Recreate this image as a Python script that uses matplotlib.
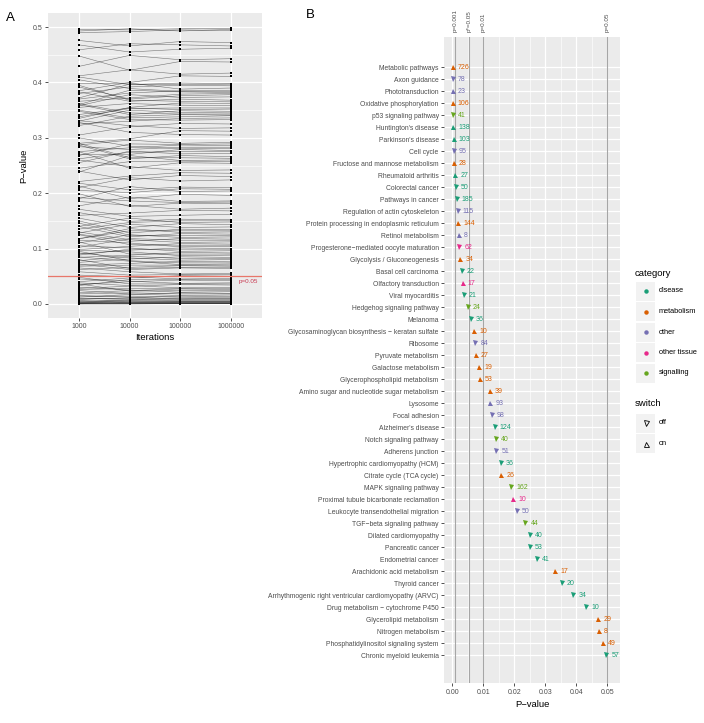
import numpy as np
import matplotlib.pyplot as plt
from matplotlib.patches import Rectangle

plt.rcParams['font.family'] = ['Liberation Sans', 'DejaVu Sans']

# ---- panel A: p-value per pathway at each iteration count ----
iterations = ["1000", "10000", "100000", "1000000"]

p_1000 = [0.496, 0.493, 0.490, 0.476, 0.459, 0.468, 0.429, 0.448, 0.412, 0.385,
          0.410, 0.380, 0.398, 0.370, 0.360, 0.392, 0.358, 0.383, 0.335,
          0.342, 0.360, 0.330, 0.350, 0.325, 0.305, 0.331, 0.290, 0.328,
          0.287, 0.275, 0.300, 0.270, 0.255, 0.287, 0.238, 0.275,
          0.260, 0.221, 0.240, 0.210, 0.218, 0.190, 0.213, 0.177, 0.199, 0.185, 0.160, 0.171,
          0.165, 0.140, 0.155, 0.128, 0.150, 0.117, 0.140, 0.110, 0.126, 0.130, 0.098,
          0.115, 0.090, 0.105, 0.084, 0.097, 0.075, 0.092, 0.070, 0.085, 0.062, 0.072,
          0.065, 0.040, 0.052, 0.035, 0.045, 0.028, 0.038, 0.020, 0.030, 0.012,
          0.024, 0.008, 0.015, 0.004, 0.010, 0.002, 0.006, 0.001, 0.003, 0.000,
          0.372, 0.405, 0.366, 0.395, 0.355, 0.338, 0.362, 0.322, 0.348, 0.268,
          0.284, 0.262, 0.290, 0.245, 0.205, 0.192, 0.135, 0.118, 0.146, 0.102,
          0.125, 0.088, 0.112, 0.078, 0.095, 0.068, 0.080, 0.058, 0.033, 0.048,
          0.026, 0.036, 0.018, 0.014, 0.009, 0.005, 0.003, 0.000, 0.001, 0.000]
p_10000 = [0.495, 0.497, 0.492, 0.466, 0.470, 0.455, 0.449, 0.422, 0.423, 0.400,
           0.396, 0.392, 0.399, 0.381, 0.386, 0.370, 0.378, 0.366, 0.355,
           0.354, 0.342, 0.350, 0.336, 0.330, 0.320, 0.322, 0.298, 0.310,
           0.296, 0.282, 0.285, 0.270, 0.276, 0.262, 0.268, 0.245,
           0.248, 0.231, 0.224, 0.228, 0.206, 0.212, 0.190, 0.193, 0.176, 0.178, 0.164, 0.158,
           0.149, 0.155, 0.138, 0.144, 0.128, 0.136, 0.121, 0.125, 0.113, 0.116, 0.104,
           0.110, 0.097, 0.101, 0.088, 0.094, 0.081, 0.083, 0.073, 0.077, 0.066, 0.062,
           0.058, 0.047, 0.049, 0.040, 0.041, 0.032, 0.033, 0.024, 0.025, 0.017,
           0.018, 0.011, 0.012, 0.007, 0.008, 0.005, 0.002, 0.003, 0.001, 0.000,
           0.397, 0.389, 0.372, 0.368, 0.362, 0.353, 0.345, 0.339, 0.333, 0.289,
           0.279, 0.274, 0.264, 0.257, 0.201, 0.186, 0.147, 0.132, 0.124, 0.118,
           0.107, 0.099, 0.090, 0.086, 0.078, 0.070, 0.064, 0.052, 0.044, 0.036,
           0.028, 0.023, 0.020, 0.014, 0.010, 0.006, 0.004, 0.002, 0.001, 0.000]
p_100000 = [0.497, 0.493, 0.495, 0.474, 0.468, 0.460, 0.441, 0.438, 0.415, 0.412,
            0.399, 0.395, 0.388, 0.385, 0.383, 0.376, 0.373, 0.370, 0.363,
            0.351, 0.349, 0.346, 0.338, 0.335, 0.326, 0.317, 0.313, 0.306,
            0.290, 0.287, 0.280, 0.279, 0.271, 0.268, 0.259, 0.255,
            0.241, 0.237, 0.232, 0.222, 0.211, 0.203, 0.198, 0.185, 0.182, 0.171, 0.169, 0.160,
            0.153, 0.147, 0.145, 0.138, 0.135, 0.129, 0.127, 0.120, 0.118, 0.111, 0.109,
            0.103, 0.101, 0.095, 0.093, 0.087, 0.085, 0.079, 0.077, 0.071, 0.069, 0.065,
            0.054, 0.051, 0.045, 0.043, 0.037, 0.035, 0.029, 0.027, 0.021, 0.020,
            0.015, 0.014, 0.009, 0.008, 0.006, 0.004, 0.003, 0.002, 0.001, 0.0005,
            0.396, 0.384, 0.379, 0.366, 0.359, 0.354, 0.343, 0.342, 0.332, 0.288,
            0.283, 0.275, 0.264, 0.258, 0.208, 0.183, 0.150, 0.132, 0.123, 0.115,
            0.106, 0.098, 0.090, 0.082, 0.074, 0.070, 0.066, 0.053, 0.044, 0.036,
            0.028, 0.024, 0.018, 0.012, 0.009, 0.005, 0.004, 0.002, 0.001, 0.0003]
p_1000000 = [0.498, 0.496, 0.494, 0.472, 0.466, 0.462, 0.443, 0.437, 0.417, 0.411,
             0.398, 0.394, 0.390, 0.386, 0.382, 0.378, 0.374, 0.368, 0.362,
             0.352, 0.348, 0.345, 0.340, 0.336, 0.325, 0.318, 0.312, 0.305,
             0.292, 0.286, 0.281, 0.277, 0.272, 0.266, 0.260, 0.254,
             0.242, 0.236, 0.230, 0.224, 0.210, 0.204, 0.196, 0.186, 0.181, 0.173, 0.168, 0.162,
             0.152, 0.148, 0.143, 0.139, 0.134, 0.130, 0.126, 0.121, 0.117, 0.112, 0.108,
             0.104, 0.100, 0.096, 0.092, 0.088, 0.084, 0.080, 0.076, 0.072, 0.068, 0.064,
             0.055, 0.050, 0.046, 0.042, 0.038, 0.034, 0.030, 0.026, 0.022, 0.019,
             0.016, 0.013, 0.010, 0.008, 0.006, 0.004, 0.003, 0.002, 0.001, 0.0005,
             0.397, 0.384, 0.380, 0.365, 0.358, 0.354, 0.343, 0.341, 0.333, 0.289,
             0.283, 0.275, 0.263, 0.257, 0.207, 0.184, 0.150, 0.132, 0.124, 0.115,
             0.106, 0.098, 0.090, 0.082, 0.074, 0.070, 0.066, 0.053, 0.044, 0.036,
             0.028, 0.024, 0.018, 0.012, 0.009, 0.005, 0.004, 0.002, 0.001, 0.0003]

# ---- panel B: significant pathways ----
pathways = ["Metabolic pathways", "Axon guidance", "Phototransduction", "Oxidative phosphorylation",
            "p53 signaling pathway", "Huntington's disease", "Parkinson's disease", "Cell cycle",
            "Fructose and mannose metabolism", "Rheumatoid arthritis", "Colorectal cancer",
            "Pathways in cancer", "Regulation of actin cytoskeleton",
            "Protein processing in endoplasmic reticulum", "Retinol metabolism",
            "Progesterone\u2212mediated oocyte maturation", "Glycolysis / Gluconeogenesis",
            "Basal cell carcinoma", "Olfactory transduction", "Viral myocarditis",
            "Hedgehog signaling pathway", "Melanoma",
            "Glycosaminoglycan biosynthesis \u2212 keratan sulfate", "Ribosome",
            "Pyruvate metabolism", "Galactose metabolism", "Glycerophospholipid metabolism",
            "Amino sugar and nucleotide sugar metabolism", "Lysosome", "Focal adhesion",
            "Alzheimer's disease", "Notch signaling pathway", "Adherens junction",
            "Hypertrophic cardiomyopathy (HCM)", "Citrate cycle (TCA cycle)",
            "MAPK signaling pathway", "Proximal tubule bicarbonate reclamation",
            "Leukocyte transendothelial migration", "TGF\u2212beta signaling pathway",
            "Dilated cardiomyopathy", "Pancreatic cancer", "Endometrial cancer",
            "Arachidonic acid metabolism", "Thyroid cancer",
            "Arrhythmogenic right ventricular cardiomyopathy (ARVC)",
            "Drug metabolism \u2212 cytochrome P450", "Glycerolipid metabolism",
            "Nitrogen metabolism", "Phosphatidylinositol signaling system",
            "Chronic myeloid leukemia"]
pvalues = [0.0001, 0.0001, 0.0001, 0.0001, 0.0002, 0.0002, 0.0005, 0.0005, 0.0005, 0.0010,
           0.0012, 0.0014, 0.0017, 0.0019, 0.0021, 0.0023, 0.0026, 0.0031, 0.0033, 0.0037,
           0.0050, 0.0060, 0.0071, 0.0074, 0.0075, 0.0087, 0.0089, 0.0122, 0.0123, 0.0127,
           0.0136, 0.0140, 0.0142, 0.0157, 0.0158, 0.0190, 0.0196, 0.0208, 0.0236, 0.0249,
           0.0251, 0.0274, 0.0332, 0.0354, 0.0390, 0.0432, 0.0471, 0.0472, 0.0487, 0.0497]
n_genes = [726, 78, 23, 106, 41, 138, 103, 95, 28, 27,
           50, 185, 115, 144, 8, 62, 34, 22, 17, 21,
           24, 36, 10, 84, 27, 19, 53, 39, 93, 98,
           124, 40, 51, 36, 26, 162, 10, 50, 44, 40,
           53, 41, 17, 20, 34, 10, 29, 8, 49, 57]
category = ["metabolism", "other", "other", "metabolism", "signalling", "disease", "disease",
            "other", "metabolism", "disease", "disease", "disease", "other", "metabolism",
            "other", "other tissue", "metabolism", "disease", "other tissue", "disease",
            "signalling", "disease", "metabolism", "other", "metabolism", "metabolism",
            "metabolism", "metabolism", "other", "other", "disease", "signalling", "other",
            "disease", "metabolism", "signalling", "other tissue", "other", "signalling",
            "disease", "disease", "disease", "metabolism", "disease", "disease", "disease",
            "metabolism", "metabolism", "metabolism", "disease"]
switch = ["on", "off", "on", "on", "off", "on", "on", "off", "on", "on",
          "off", "off", "off", "on", "on", "off", "on", "off", "on", "off",
          "off", "off", "on", "off", "on", "on", "on", "on", "on", "off",
          "off", "off", "off", "off", "on", "off", "on", "off", "off", "off",
          "off", "off", "on", "off", "off", "off", "on", "on", "on", "off"]

cutoffs = [0.001, 0.0055, 0.01, 0.05]
cutoff_labels = ["p=0.001", "p*=0.05", "p=0.01", "p=0.05"]

cat_names = ["disease", "metabolism", "other", "other tissue", "signalling"]
cat_colors = ["#1B9E77", "#D95F02", "#7570B3", "#E7298A", "#66A61E"]
color_of = dict(zip(cat_names, cat_colors))
marker_of = {"off": "v", "on": "^"}

W, H = 704, 723
fig = plt.figure(figsize=(W / 100, H / 100), dpi=100)
tick_col = "#4D4D4D"


def gg_axes(ax):
    ax.set_facecolor("#EBEBEB")
    for s in ax.spines.values():
        s.set_visible(False)
    ax.tick_params(length=2.5, width=0.6, color="#333333", labelcolor=tick_col,
                   labelsize=5, pad=1.5)
    ax.tick_params(which="minor", length=0)


# ---- panel A ----
axA = fig.add_axes([48.3 / W, 1 - 317.7 / H, 213.4 / W, 304.4 / H])
gg_axes(axA)
xs = np.arange(len(iterations))
pv = np.array([p_1000, p_10000, p_100000, p_1000000])
axA.set_xlim(-0.6, 3.6)
axA.set_ylim(-0.025, 0.525)
axA.set_yticks(np.arange(0, 0.51, 0.1))
axA.set_yticks(np.arange(0.05, 0.5, 0.1), minor=True)
axA.set_xticks(xs)
axA.set_xticklabels(iterations)
axA.grid(True, which="major", color="white", lw=0.9)
axA.grid(True, which="minor", axis="y", color="white", lw=0.45)
axA.set_axisbelow(True)
for i in range(pv.shape[1]):
    axA.plot(xs, pv[:, i], color="black", lw=0.4, alpha=0.5, zorder=2)
for j in range(len(xs)):
    axA.scatter(np.full(pv.shape[1], xs[j]), pv[j], marker="s", s=0.9,
                color="black", lw=0, zorder=3)
axA.axhline(0.05, color="#E8766A", lw=0.9, zorder=4)
axA.text(3.33, 0.04, "p=0.05", color="#C8364E", fontsize=4.5, ha="center", va="center")
axA.set_xlabel("Iterations", fontsize=6.8, labelpad=2)
axA.set_ylabel("P\u2212value", fontsize=6.8, labelpad=3)

# ---- panel B ----
axB = fig.add_axes([444.3 / W, 1 - 683 / H, 175.7 / W, 646 / H])
gg_axes(axB)
rows = np.arange(len(pathways))
axB.set_xlim(-0.0026, 0.0541)
axB.set_ylim(len(pathways) - 1 + 2.33, -2.5)
axB.set_xticks([0, 0.01, 0.02, 0.03, 0.04, 0.05])
axB.set_xticklabels(["0.00", "0.01", "0.02", "0.03", "0.04", "0.05"])
axB.set_xticks(np.arange(0.005, 0.05, 0.01), minor=True)
axB.set_yticks(rows)
axB.set_yticklabels(pathways, fontsize=4.9)
axB.grid(True, which="major", color="white", lw=0.9)
axB.grid(True, which="minor", axis="x", color="white", lw=0.45)
axB.set_axisbelow(True)
for c, lab in zip(cutoffs, cutoff_labels):
    axB.axvline(c, color="#A6A6A6", lw=0.8, zorder=2)
    axB.text(c, 1.008, lab, transform=axB.get_xaxis_transform(), rotation=90,
             ha="center", va="bottom", fontsize=4.5, color=tick_col, clip_on=False)
for r, p, n, cat, sw in zip(rows, pvalues, n_genes, category, switch):
    col = color_of[cat]
    axB.plot(p, r, marker=marker_of[sw], ms=3.6, color=col, mec=col, mew=0, ls="none",
             zorder=3)
    axB.annotate(str(n), (p, r), xytext=(3.6, 0), textcoords="offset points",
                 ha="left", va="center", fontsize=5, color=col)
axB.set_xlabel("P\u2212value", fontsize=6.8, labelpad=3)

# ---- overlay: panel letters and legend (pixel coordinates) ----
ov = fig.add_axes([0, 0, 1, 1], facecolor="none")
ov.set_xlim(0, W)
ov.set_ylim(H, 0)
ov.axis("off")
ov.text(10, 18, "A", fontsize=9.5, ha="center", va="center")
ov.text(310, 15, "B", fontsize=9.5, ha="center", va="center")

ov.text(635, 273, "category", fontsize=6.8, ha="left", va="center")
for k, (name, col) in enumerate(zip(cat_names, cat_colors)):
    yk = 291 + k * 20.5
    ov.add_patch(Rectangle((636, yk - 9.5), 19, 19, color="#F2F2F2", lw=0))
    ov.plot(645.5, yk, "o", ms=3.2, color=col, mew=0)
    ov.text(659, yk, name, fontsize=5.3, color="black", ha="left", va="center")

ov.text(635, 404, "switch", fontsize=6.8, ha="left", va="center")
for k, sw in enumerate(["off", "on"]):
    yk = 423 + k * 20.5
    ov.add_patch(Rectangle((636, yk - 9.5), 19, 19, color="#F2F2F2", lw=0))
    ov.plot(645.5, yk, marker_of[sw], ms=3.6, mfc="none", mec="black", mew=0.6)
    ov.text(659, yk, sw, fontsize=5.3, color="black", ha="left", va="center")

fig.savefig("out.png", dpi=100)
